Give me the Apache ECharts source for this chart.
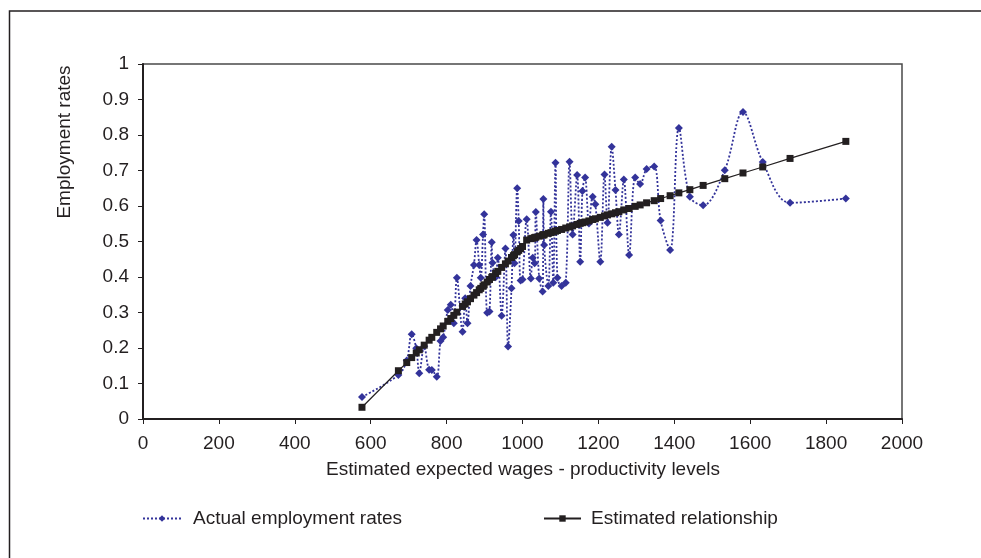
<!DOCTYPE html>
<html>
<head>
<meta charset="utf-8">
<script src="https://cdn.jsdelivr.net/npm/echarts@6/dist/echarts.min.js"></script>
<style>
  html, body { margin: 0; padding: 0; background: #ffffff; }
  #chart { width: 981px; height: 558px; }
</style>
</head>
<body>
<div id="chart"></div>
<script>
// Estimated expected wages (productivity levels), one value per region
const wages = [
  577, 673, 695, 708, 720, 728, 741, 754, 761, 774,
  784, 791, 803, 811, 819, 827, 842, 849, 855, 863,
  872, 879, 886, 890, 896, 899, 907, 913, 919, 921,
  929, 935, 945, 955, 962, 971, 976, 979, 986, 990,
  995, 1000, 1011, 1022, 1027, 1032, 1035, 1044, 1053, 1055,
  1057, 1068, 1075, 1081, 1087, 1092, 1103, 1114, 1124, 1132,
  1144, 1152, 1158, 1165, 1175, 1185, 1192, 1205, 1216, 1224,
  1235, 1245, 1254, 1267, 1281, 1297, 1310, 1327, 1347, 1364,
  1389, 1412, 1441, 1476, 1533, 1581, 1633, 1705, 1852
];

// Observed employment rates
const actualRates = [
  0.062, 0.124, 0.165, 0.239, 0.199, 0.129, 0.205, 0.139, 0.138, 0.119,
  0.220, 0.230, 0.307, 0.322, 0.270, 0.398, 0.246, 0.340, 0.270, 0.375,
  0.434, 0.504, 0.434, 0.398, 0.520, 0.577, 0.299, 0.303, 0.498, 0.440,
  0.399, 0.454, 0.291, 0.480, 0.204, 0.368, 0.518, 0.439, 0.650, 0.558,
  0.390, 0.393, 0.563, 0.396, 0.454, 0.439, 0.583, 0.396, 0.359, 0.620,
  0.490, 0.375, 0.584, 0.384, 0.722, 0.398, 0.375, 0.384, 0.725, 0.520,
  0.687, 0.443, 0.642, 0.680, 0.551, 0.626, 0.605, 0.443, 0.689, 0.553,
  0.767, 0.645, 0.520, 0.675, 0.462, 0.680, 0.662, 0.704, 0.711, 0.559,
  0.476, 0.820, 0.626, 0.602, 0.701, 0.865, 0.724, 0.609, 0.621
];

// Fitted employment rates from the estimated relationship
const estimatedRates = [
  0.033, 0.136, 0.159, 0.173, 0.186, 0.195, 0.208, 0.222, 0.230, 0.244,
  0.254, 0.262, 0.275, 0.283, 0.292, 0.301, 0.317, 0.324, 0.330, 0.339,
  0.349, 0.356, 0.364, 0.368, 0.374, 0.378, 0.386, 0.393, 0.399, 0.401,
  0.410, 0.416, 0.427, 0.437, 0.445, 0.455, 0.460, 0.463, 0.471, 0.475,
  0.480, 0.486, 0.504, 0.508, 0.509, 0.511, 0.512, 0.515, 0.518, 0.519,
  0.519, 0.523, 0.525, 0.527, 0.529, 0.531, 0.534, 0.538, 0.541, 0.544,
  0.548, 0.551, 0.553, 0.555, 0.558, 0.562, 0.564, 0.568, 0.572, 0.575,
  0.578, 0.581, 0.584, 0.589, 0.593, 0.599, 0.603, 0.609, 0.615, 0.621,
  0.629, 0.637, 0.646, 0.658, 0.677, 0.693, 0.710, 0.734, 0.782
];

const xTicks = [0, 200, 400, 600, 800, 1000, 1200, 1400, 1600, 1800, 2000];
const yTicks = [0, 0.1, 0.2, 0.3, 0.4, 0.5, 0.6, 0.7, 0.8, 0.9, 1];

const seriesNames = ['Actual employment rates', 'Estimated relationship'];
const xTitle = 'Estimated expected wages - productivity levels';
const yTitle = 'Employment rates';

const FONT = '"Liberation Sans", Arial, Helvetica, sans-serif';
const FS = 19;
const INK = '#231f20';
const BLUE = '#33339a';

const pairs = (xs, ys) => xs.map((x, i) => [x, ys[i]]);

const chart = echarts.init(document.getElementById('chart'), null, { renderer: 'canvas' });

chart.setOption({
  animation: false,
  backgroundColor: '#ffffff',
  textStyle: { fontFamily: FONT, color: INK },
  grid: {
    left: 143, right: 79, top: 64, bottom: 139,
    show: true, borderColor: '#4a4a4a', borderWidth: 1.5, backgroundColor: 'transparent'
  },
  xAxis: {
    type: 'value',
    min: xTicks[0], max: xTicks[xTicks.length - 1], interval: xTicks[1] - xTicks[0],
    axisLine: { show: true, onZero: false, lineStyle: { color: INK, width: 2 } },
    axisTick: { show: true, length: 5, lineStyle: { color: INK, width: 1 } },
    axisLabel: { fontSize: FS, color: INK, margin: 15, fontFamily: FONT, formatter: v => String(v) },
    splitLine: { show: false }
  },
  yAxis: {
    type: 'value',
    min: yTicks[0], max: yTicks[yTicks.length - 1], interval: 0.1,
    axisLine: { show: true, onZero: false, lineStyle: { color: INK, width: 2 } },
    axisTick: { show: true, length: 5, lineStyle: { color: INK, width: 1 } },
    axisLabel: {
      fontSize: FS, color: INK, margin: 14, fontFamily: FONT,
      formatter: v => String(Math.round(v * 10) / 10)
    },
    splitLine: { show: false }
  },
  legend: [
    {
      data: [seriesNames[0]], left: 137, top: 504,
      itemWidth: 38, itemHeight: 8,
      textStyle: { fontSize: FS, color: INK, fontFamily: FONT, padding: [0, 0, 0, 7] }
    },
    {
      data: [seriesNames[1]], left: 538, top: 504,
      itemWidth: 37, itemHeight: 8,
      textStyle: { fontSize: FS, color: INK, fontFamily: FONT, padding: [0, 0, 0, 5] }
    }
  ],
  graphic: [
    {
      type: 'rect', silent: true, z: -1,
      shape: { x: 9.5, y: 11, width: 1000, height: 600 },
      style: { fill: 'none', stroke: INK, lineWidth: 1.5 }
    },
    {
      type: 'text', silent: true,
      x: 523, y: 470,
      style: { text: xTitle, fontSize: FS, fontFamily: FONT, fill: INK, align: 'center', verticalAlign: 'middle' }
    },
    {
      type: 'text', silent: true,
      x: 65, y: 142, rotation: Math.PI / 2,
      style: { text: yTitle, fontSize: FS, fontFamily: FONT, fill: INK, align: 'center', verticalAlign: 'middle' }
    }
  ],
  series: [
    {
      name: seriesNames[0],
      type: 'line',
      data: pairs(wages, actualRates),
      smooth: 0.35,
      symbol: 'diamond', symbolSize: 8,
      itemStyle: { color: BLUE },
      lineStyle: { color: BLUE, width: 1.8, type: [2, 2] },
      z: 2
    },
    {
      name: seriesNames[1],
      type: 'line',
      data: pairs(wages, estimatedRates),
      symbol: 'rect', symbolSize: 7,
      itemStyle: { color: INK },
      lineStyle: { color: INK, width: 1.2 },
      z: 3
    }
  ]
});
</script>
</body>
</html>
